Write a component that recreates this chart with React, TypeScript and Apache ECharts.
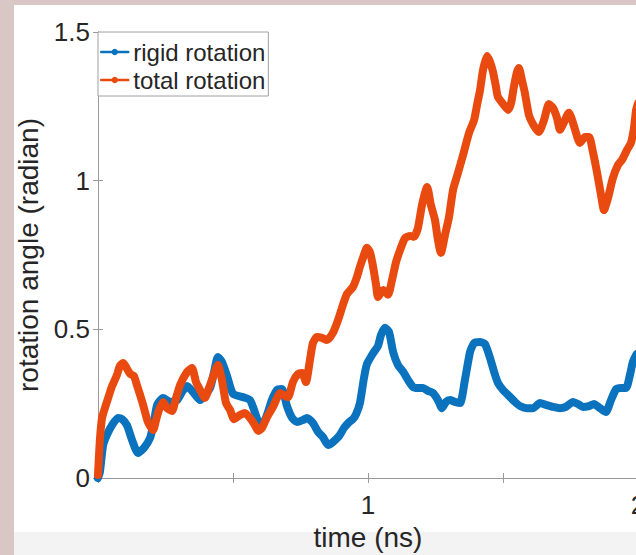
import React, { useEffect, useRef } from "react";
import * as echarts from "echarts";

const rigidTime = [0, 0.007, 0.019, 0.033, 0.052, 0.074, 0.089, 0.107, 0.126, 0.148, 0.17, 0.193, 0.207, 0.219, 0.241, 0.267, 0.293, 0.311, 0.33, 0.352, 0.378, 0.415, 0.43, 0.444, 0.459, 0.478, 0.5, 0.537, 0.563, 0.578, 0.593, 0.611, 0.626, 0.644, 0.663, 0.681, 0.7, 0.719, 0.737, 0.759, 0.774, 0.796, 0.815, 0.833, 0.852, 0.87, 0.893, 0.911, 0.93, 0.944, 0.956, 0.97, 0.985, 0.996, 1.019, 1.037, 1.048, 1.063, 1.078, 1.093, 1.111, 1.13, 1.148, 1.167, 1.185, 1.204, 1.222, 1.241, 1.259, 1.274, 1.289, 1.304, 1.322, 1.341, 1.359, 1.378, 1.393, 1.415, 1.433, 1.452, 1.467, 1.481, 1.5, 1.522, 1.544, 1.563, 1.589, 1.611, 1.637, 1.659, 1.685, 1.711, 1.733, 1.759, 1.778, 1.796, 1.819, 1.837, 1.859, 1.881, 1.9, 1.919, 1.937, 1.956, 1.97, 1.981, 1.993, 2.0];
const rigidAngle = [0, 0.02, 0.111, 0.145, 0.178, 0.202, 0.198, 0.178, 0.128, 0.084, 0.101, 0.135, 0.188, 0.246, 0.269, 0.256, 0.262, 0.289, 0.309, 0.289, 0.262, 0.303, 0.357, 0.407, 0.39, 0.343, 0.283, 0.272, 0.262, 0.229, 0.192, 0.185, 0.212, 0.262, 0.296, 0.299, 0.242, 0.202, 0.188, 0.195, 0.202, 0.185, 0.155, 0.138, 0.111, 0.121, 0.141, 0.168, 0.188, 0.198, 0.215, 0.252, 0.336, 0.383, 0.42, 0.444, 0.481, 0.505, 0.491, 0.424, 0.38, 0.357, 0.33, 0.306, 0.303, 0.303, 0.293, 0.286, 0.262, 0.235, 0.256, 0.262, 0.256, 0.252, 0.33, 0.424, 0.454, 0.457, 0.451, 0.404, 0.357, 0.32, 0.296, 0.276, 0.256, 0.242, 0.235, 0.235, 0.252, 0.246, 0.239, 0.235, 0.239, 0.256, 0.249, 0.239, 0.242, 0.249, 0.235, 0.222, 0.262, 0.299, 0.303, 0.303, 0.346, 0.39, 0.414, 0.42];

const totalTime = [0, 0.007, 0.015, 0.033, 0.052, 0.07, 0.081, 0.093, 0.104, 0.119, 0.133, 0.144, 0.156, 0.167, 0.185, 0.204, 0.215, 0.226, 0.241, 0.256, 0.274, 0.289, 0.304, 0.33, 0.348, 0.363, 0.378, 0.396, 0.411, 0.426, 0.444, 0.459, 0.474, 0.489, 0.504, 0.526, 0.544, 0.563, 0.581, 0.593, 0.607, 0.626, 0.648, 0.663, 0.674, 0.693, 0.704, 0.722, 0.741, 0.756, 0.77, 0.785, 0.796, 0.811, 0.83, 0.848, 0.87, 0.889, 0.907, 0.922, 0.944, 0.959, 0.97, 0.985, 0.996, 1.007, 1.019, 1.03, 1.037, 1.056, 1.074, 1.089, 1.104, 1.119, 1.137, 1.156, 1.17, 1.185, 1.2, 1.219, 1.233, 1.248, 1.259, 1.27, 1.285, 1.3, 1.315, 1.33, 1.352, 1.374, 1.393, 1.404, 1.415, 1.426, 1.441, 1.452, 1.463, 1.474, 1.481, 1.5, 1.519, 1.53, 1.541, 1.552, 1.559, 1.57, 1.581, 1.596, 1.615, 1.633, 1.652, 1.67, 1.685, 1.7, 1.711, 1.726, 1.744, 1.756, 1.767, 1.785, 1.804, 1.819, 1.833, 1.848, 1.863, 1.874, 1.889, 1.907, 1.926, 1.941, 1.959, 1.974, 1.985, 1.993, 2.0];
const totalAngle = [0.01, 0.128, 0.202, 0.256, 0.309, 0.346, 0.377, 0.387, 0.373, 0.35, 0.343, 0.313, 0.279, 0.246, 0.188, 0.161, 0.195, 0.229, 0.256, 0.235, 0.225, 0.269, 0.313, 0.357, 0.37, 0.323, 0.296, 0.269, 0.303, 0.34, 0.38, 0.33, 0.252, 0.229, 0.198, 0.212, 0.219, 0.202, 0.178, 0.158, 0.168, 0.205, 0.239, 0.269, 0.286, 0.276, 0.272, 0.323, 0.35, 0.353, 0.323, 0.397, 0.454, 0.474, 0.471, 0.464, 0.488, 0.531, 0.582, 0.619, 0.642, 0.676, 0.71, 0.75, 0.774, 0.76, 0.71, 0.649, 0.609, 0.632, 0.616, 0.666, 0.727, 0.767, 0.807, 0.814, 0.811, 0.841, 0.918, 0.979, 0.918, 0.868, 0.801, 0.757, 0.817, 0.878, 0.969, 1.016, 1.086, 1.16, 1.204, 1.255, 1.305, 1.372, 1.419, 1.399, 1.366, 1.315, 1.282, 1.258, 1.238, 1.261, 1.319, 1.366, 1.379, 1.339, 1.295, 1.221, 1.184, 1.164, 1.204, 1.258, 1.245, 1.211, 1.171, 1.197, 1.228, 1.204, 1.171, 1.127, 1.147, 1.147, 1.097, 1.029, 0.952, 0.901, 0.942, 1.009, 1.053, 1.07, 1.103, 1.127, 1.177, 1.238, 1.26];

const seriesNames = ["rigid rotation", "total rotation"];
const seriesColors = ["#0b72be", "#e84a0f"];
const xTicks = [0, 0.5, 1, 1.5, 2];
const xLabelled = [1, 2];
const yTicks = [0, 0.5, 1, 1.5];
const xTitle = "time (ns)";
const yTitle = "rotation angle (radian)";

const FONT = "'Liberation Sans', Arial, Helvetica, sans-serif";
const AXIS_GRAY = "#9a9a9a";
const TEXT = "#262626";

export default function App() {
  const ref = useRef<HTMLDivElement>(null);
  useEffect(() => {
    document.body.style.margin = "0";
    if (!ref.current) return;
    const chart = echarts.init(ref.current, undefined, { renderer: "svg" });
    const rigid = rigidTime.map((t, i) => [t, rigidAngle[i]]);
    const total = totalTime.map((t, i) => [t, totalAngle[i]]);
    const xMin = xTicks[0];
    const xMax = xTicks[xTicks.length - 1];
    const xInt = xTicks[1] - xTicks[0];
    const yMin = yTicks[0];
    const yMax = yTicks[yTicks.length - 1];
    const yInt = yTicks[1] - yTicks[0];
    chart.setOption({
      animation: false,
      textStyle: { fontFamily: FONT },
      graphic: [
        { type: "rect", z: -100, shape: { x: 0, y: 0, width: 636, height: 555 }, style: { fill: "#d8c7c4" } },
        { type: "rect", z: -99, shape: { x: 14, y: 5, width: 622, height: 527 }, style: { fill: "#ffffff" } },
        { type: "rect", z: -99, shape: { x: 14, y: 532, width: 622, height: 23 }, style: { fill: "#f3f3f3" } },
      ],
      grid: { left: 98, top: 32, width: 540, height: 446, containLabel: false, outerBoundsMode: "none" },
      legend: {
        orient: "vertical",
        left: 98,
        top: 32,
        data: seriesNames,
        backgroundColor: "#ffffff",
        borderColor: "#a0a0a0",
        borderWidth: 1,
        borderRadius: 0,
        padding: [6, 3, 2, 2],
        itemGap: 0,
        itemWidth: 27,
        itemHeight: 8,
        itemTextGap: 2,
        lineStyle: { width: 2.5 },
        textStyle: { fontSize: 24, color: TEXT, fontFamily: FONT, lineHeight: 28 },
        selectedMode: false,
      },
      xAxis: [
        {
          type: "value",
          min: xMin,
          max: xMax,
          interval: xInt,
          position: "bottom",
          name: xTitle,
          nameLocation: "middle",
          nameGap: 45,
          nameTextStyle: { fontSize: 28, color: TEXT, fontFamily: FONT },
          axisLine: { show: true, lineStyle: { color: AXIS_GRAY, width: 1 } },
          axisTick: { show: true, inside: true, length: 5, lineStyle: { color: AXIS_GRAY } },
          axisLabel: {
            show: true,
            fontSize: 26,
            color: TEXT,
            margin: 14,
            showMaxLabel: true,
            showMinLabel: true,
            formatter: (v: number) => (xLabelled.includes(v) ? String(v) : ""),
          },
          splitLine: { show: false },
        },
        {
          type: "value",
          min: xMin,
          max: xMax,
          interval: xInt,
          position: "top",
          axisLine: { show: true, lineStyle: { color: AXIS_GRAY, width: 1 } },
          axisTick: { show: true, inside: true, length: 5, lineStyle: { color: AXIS_GRAY } },
          axisLabel: { show: false },
          splitLine: { show: false },
        },
      ],
      yAxis: [
        {
          type: "value",
          min: yMin,
          max: yMax,
          interval: yInt,
          position: "left",
          name: yTitle,
          nameLocation: "middle",
          nameGap: 45,
          nameTextStyle: { fontSize: 28, color: TEXT, fontFamily: FONT },
          axisLine: { show: true, lineStyle: { color: AXIS_GRAY, width: 1 } },
          axisTick: { show: true, inside: true, length: 5, lineStyle: { color: AXIS_GRAY } },
          axisLabel: { show: true, fontSize: 26, color: TEXT, margin: 8 },
          splitLine: { show: false },
        },
        {
          type: "value",
          min: yMin,
          max: yMax,
          interval: yInt,
          position: "right",
          axisLine: { show: true, lineStyle: { color: AXIS_GRAY, width: 1 } },
          axisTick: { show: true, inside: true, length: 5, lineStyle: { color: AXIS_GRAY } },
          axisLabel: { show: false },
          splitLine: { show: false },
        },
      ],
      series: [
        {
          name: seriesNames[0],
          type: "line",
          data: rigid,
          xAxisIndex: 0,
          yAxisIndex: 0,
          symbol: "circle",
          showSymbol: false,
          smooth: 0.2,
          color: seriesColors[0],
          lineStyle: { width: 8, color: seriesColors[0], cap: "round", join: "round" },
          z: 2,
        },
        {
          name: seriesNames[1],
          type: "line",
          data: total,
          xAxisIndex: 0,
          yAxisIndex: 0,
          symbol: "circle",
          showSymbol: false,
          smooth: 0.2,
          color: seriesColors[1],
          lineStyle: { width: 8, color: seriesColors[1], cap: "round", join: "round" },
          z: 3,
        },
      ],
    });
    return () => chart.dispose();
  }, []);
  return (
    <div
      ref={ref}
      style={{ position: "absolute", left: 0, top: 0, width: 636, height: 555 }}
    />
  );
}
